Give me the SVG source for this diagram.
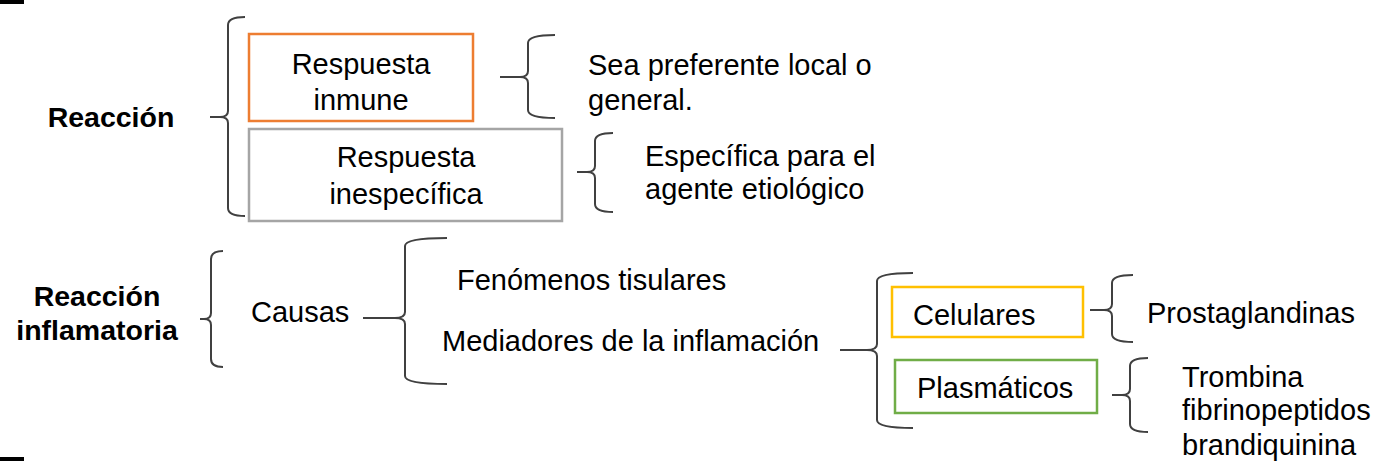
<svg xmlns="http://www.w3.org/2000/svg" width="1384" height="464" viewBox="0 0 1384 464">
<style>
text{font-family:"Liberation Sans",Arial,sans-serif;font-size:29px;fill:#000}
.b{font-weight:bold;font-size:28.5px}
.m{text-anchor:middle}
.brace{fill:none;stroke:#404040;stroke-width:2}
.box{fill:#fff;stroke-width:2.5}
</style>
<rect x="0" y="0" width="24" height="4" fill="#000"/>
<rect x="0" y="457" width="24" height="4" fill="#000"/>
<g id="connectors">
<path class="brace" d="M245 17 Q228 17 228 25 L228 111 Q228 117 220 117 L210 117 M220 117 Q228 117 228 123 L228 208 Q228 216 245 216"/>
<path class="brace" d="M555 35 Q528 35 528 43 L528 71 Q528 77 520 77 L500 77 M520 77 Q528 77 528 83 L528 110 Q528 118 555 118"/>
<path class="brace" d="M613 133 Q595 133 595 141 L595 166 Q595 172 587 172 L577 172 M587 172 Q595 172 595 178 L595 204 Q595 212 613 212"/>
<path class="brace" d="M223 251 Q211 251 211 259 L211 313 Q211 319 204 319 L200 319 M204 319 Q211 319 211 325 L211 359 Q211 367 223 367"/>
<path class="brace" d="M447 238 Q405 238 405 246 L405 312 Q405 318 395 318 L363 318 M395 318 Q405 318 405 324 L405 376 Q405 384 447 384"/>
<path class="brace" d="M913 273 Q877 273 877 281 L877 344 Q877 350 867 350 L840 350 M867 350 Q877 350 877 356 L877 420 Q877 428 913 428"/>
<path class="brace" d="M1133 275 Q1112 275 1112 283 L1112 304 Q1112 310 1104 310 L1090 310 M1104 310 Q1112 310 1112 316 L1112 334 Q1112 342 1133 342"/>
<path class="brace" d="M1148 358 Q1130 358 1130 366 L1130 389 Q1130 395 1122 395 L1112 395 M1122 395 Q1130 395 1130 401 L1130 424 Q1130 432 1148 432"/>
</g>
<g id="reaccion"><text class="b m" x="111" y="127">Reacción</text></g>
<g id="respuesta-inmune">
<rect class="box" x="249" y="34" width="224" height="87" stroke="#ed7d31"/>
<text class="m" x="361" y="74">Respuesta</text>
<text class="m" x="361" y="110">inmune</text>
</g>
<g id="respuesta-inespecifica">
<rect class="box" x="249" y="129" width="313" height="92" stroke="#a5a5a5"/>
<text class="m" x="406" y="167">Respuesta</text>
<text class="m" x="406" y="204">inespecífica</text>
</g>
<g id="sea-preferente">
<text x="588" y="75">Sea preferente local o</text>
<text x="588" y="110">general.</text>
</g>
<g id="especifica">
<text x="645" y="166">Específica para el</text>
<text x="645" y="199">agente etiológico</text>
</g>
<g id="reaccion-inflamatoria">
<text class="b m" x="97" y="306">Reacción</text>
<text class="b m" x="97" y="340">inflamatoria</text>
</g>
<g id="causas"><text x="251" y="322">Causas</text></g>
<g id="fenomenos"><text x="457" y="290">Fenómenos tisulares</text></g>
<g id="mediadores"><text x="442" y="351">Mediadores de la inflamación</text></g>
<g id="celulares">
<rect class="box" x="892" y="287" width="191" height="50" stroke="#ffc000"/>
<text x="913" y="325">Celulares</text>
</g>
<g id="plasmaticos">
<rect class="box" x="895" y="360" width="202" height="53" stroke="#70ad47"/>
<text x="917" y="398">Plasmáticos</text>
</g>
<g id="prostaglandinas"><text x="1147" y="323">Prostaglandinas</text></g>
<g id="plasma-list">
<text x="1182" y="387">Trombina</text>
<text x="1182" y="420">fibrinopeptidos</text>
<text x="1182" y="455">brandiquinina</text>
</g>
</svg>
